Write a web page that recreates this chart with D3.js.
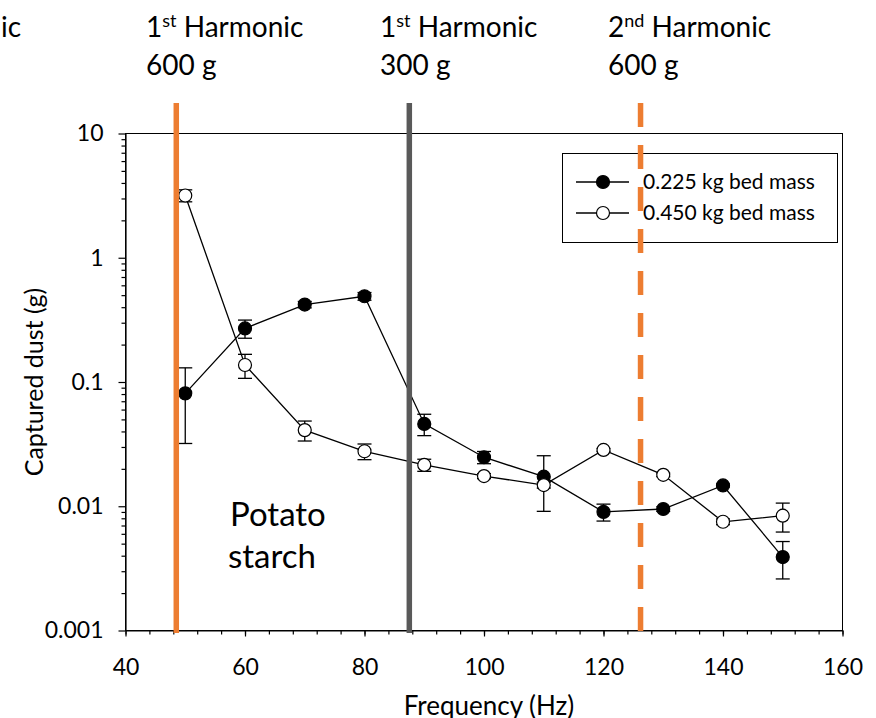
<!DOCTYPE html>
<html>
<head>
  <meta charset="UTF-8">
  <title>Captured dust vs frequency</title>
  <style>
    body { margin: 0; background: #fff; }
    svg { display: block; font-family: Lato, "Open Sans", sans-serif; }
    .tick text { font-size: 23px; fill: #000; font-family: Lato, "Open Sans", sans-serif; }
  </style>
</head>
<body>
<svg></svg>
<script src="https://d3js.org/d3.v7.min.js"></script>
<script>

let width = 876, height = 718;

// frequencies (Hz)
var freq = [50, 60, 70, 80, 90, 100, 110, 120, 130, 140, 150];

// 0.225 kg bed mass (filled)
var dust225 = [0.081, 0.27, 0.42, 0.49, 0.046, 0.0248, 0.0173, 0.0090, 0.0095, 0.0147, 0.0039];
var err225  = [0.049, 0.045, 0.025, 0.035, 0.009, 0.0028, 0.0082, 0.0014, 0.0004, 0.0004, 0.0013];

// 0.450 kg bed mass (open)
var dust450 = [3.17, 0.137, 0.041, 0.0277, 0.0215, 0.0175, 0.0148, 0.0284, 0.0179, 0.0075, 0.0084];
var err450  = [0.35, 0.03, 0.0075, 0.004, 0.0024, 0.0008, 0.0008, 0.0008, 0.0006, 0.0004, 0.0022];

var yTicks = [0.001, 0.01, 0.1, 1, 10];
var xTicks = [40, 60, 80, 100, 120, 140, 160];

// harmonic marker lines
var harmonics = [
  {f: 48.5, color: "#ED7D31", dash: null, num: "1", sup: "st", mass: "600 g", lx: 146},
  {f: 87.5, color: "#595959", dash: null, num: "1", sup: "st", mass: "300 g", lx: 380},
  {f: 126.2, color: "#ED7D31", dash: "24,18", num: "2", sup: "nd", mass: "600 g", lx: 608}
];

var pLeft = 125.5, pRight = 842.5, pTop = 133.5, pBottom = 630.5;

let svg = d3.select("svg")
    .attr("width", width)
    .attr("height", height);

var x = d3.scaleLinear().domain([40, 160]).range([pLeft, pRight]);
var y = d3.scaleLog().domain([0.001, 10]).range([pBottom, pTop]);

// frame
svg.append("rect")
    .attr("x", pLeft).attr("y", pTop)
    .attr("width", pRight - pLeft).attr("height", pBottom - pTop)
    .attr("fill", "none").attr("stroke", "#000").attr("stroke-width", 1);

// minor ticks
var yMinor = [];
for (let d = 0.001; d < 9; d *= 10) {
  for (let k = 2; k <= 9; k++) yMinor.push(d * k);
}
svg.append("g")
    .attr("transform", "translate(" + pLeft + ",0)")
    .call(d3.axisLeft(y).tickValues(yMinor).tickSize(4).tickFormat(""))
    .call(g => g.select(".domain").remove());

var xMinor = d3.range(40, 161, 4);
svg.append("g")
    .attr("transform", "translate(0," + pBottom + ")")
    .call(d3.axisBottom(x).tickValues(xMinor).tickSize(4).tickFormat(""))
    .call(g => g.select(".domain").remove());

// major axes
svg.append("g")
    .attr("transform", "translate(" + pLeft + ",0)")
    .call(d3.axisLeft(y).tickValues(yTicks).tickSize(7).tickPadding(15).tickSizeOuter(0)
      .tickFormat(d => String(d)));

svg.append("g")
    .attr("transform", "translate(0," + pBottom + ")")
    .call(d3.axisBottom(x).tickValues(xTicks).tickSize(6).tickPadding(22).tickSizeOuter(0));

svg.selectAll(".domain, .tick line").attr("stroke", "#000").attr("stroke-width", 1.2);

// axis titles
svg.append("text")
    .attr("transform", "translate(43," + ((pTop + pBottom) / 2) + ") rotate(-90)")
    .attr("text-anchor", "middle")
    .style("font-size", "25px")
    .text("Captured dust (g)");

svg.append("text")
    .attr("x", 489).attr("y", 715)
    .attr("text-anchor", "middle")
    .style("font-size", "26px")
    .text("Frequency (Hz)");

// Potato starch
var ps = svg.append("text").style("font-size", "33px");
ps.append("tspan").attr("x", 230).attr("y", 526).text("Potato");
ps.append("tspan").attr("x", 228).attr("y", 568).text("starch");

// series
function drawSeries(vals, errs, fill) {
  var pts = freq.map((f, i) => ({f: f, v: vals[i], e: errs[i]}));
  var g = svg.append("g");
  g.append("path")
      .datum(pts)
      .attr("fill", "none").attr("stroke", "#000").attr("stroke-width", 1.3)
      .attr("d", d3.line().x(d => x(d.f)).y(d => y(d.v)));
  var eb = g.selectAll(".eb").data(pts).enter().append("g")
      .attr("stroke", "#000").attr("stroke-width", 1.3);
  eb.append("line")
      .attr("x1", d => x(d.f)).attr("x2", d => x(d.f))
      .attr("y1", d => y(d.v + d.e)).attr("y2", d => y(Math.max(d.v - d.e, 0.0011)));
  eb.append("line")
      .attr("x1", d => x(d.f) - 7).attr("x2", d => x(d.f) + 7)
      .attr("y1", d => y(d.v + d.e)).attr("y2", d => y(d.v + d.e));
  eb.append("line")
      .attr("x1", d => x(d.f) - 7).attr("x2", d => x(d.f) + 7)
      .attr("y1", d => y(Math.max(d.v - d.e, 0.0011))).attr("y2", d => y(Math.max(d.v - d.e, 0.0011)));
  g.selectAll("circle").data(pts).enter().append("circle")
      .attr("cx", d => x(d.f)).attr("cy", d => y(d.v)).attr("r", 6.5)
      .attr("fill", fill).attr("stroke", "#000").attr("stroke-width", 1.2);
}
drawSeries(dust225, err225, "#000");
drawSeries(dust450, err450, "#fff");

// legend
var lg = svg.append("g");
lg.append("rect")
    .attr("x", 562.5).attr("y", 153.5).attr("width", 275).attr("height", 89)
    .attr("fill", "#fff").attr("stroke", "#000").attr("stroke-width", 1);
[["0.225 kg bed mass", "#000", 182], ["0.450 kg bed mass", "#fff", 213]].forEach(function (r) {
  lg.append("line").attr("x1", 576).attr("x2", 629).attr("y1", r[2]).attr("y2", r[2])
      .attr("stroke", "#000").attr("stroke-width", 1.3);
  lg.append("circle").attr("cx", 603).attr("cy", r[2]).attr("r", 6.5)
      .attr("fill", r[1]).attr("stroke", "#000").attr("stroke-width", 1.2);
  lg.append("text").attr("x", 643).attr("y", r[2]).attr("dy", "0.35em")
      .style("font-size", "21px").text(r[0]);
});

// harmonic lines, drawn on top
harmonics.forEach(function (h) {
  svg.append("line")
      .attr("x1", x(h.f)).attr("x2", x(h.f))
      .attr("y1", 103).attr("y2", 633)
      .attr("stroke", h.color).attr("stroke-width", 5.5)
      .attr("stroke-dasharray", h.dash);
  var t = svg.append("text").attr("x", h.lx).attr("y", 37).style("font-size", "28px");
  t.append("tspan").text(h.num);
  t.append("tspan").attr("dy", -10).style("font-size", "18px").text(h.sup);
  t.append("tspan").attr("dy", 10).text(" Harmonic");
  svg.append("text").attr("x", h.lx).attr("y", 75).style("font-size", "28px").text(h.mass);
});

// label cut off at the left edge
svg.append("text").attr("x", 21).attr("y", 37).attr("text-anchor", "end")
    .style("font-size", "28px").text("Harmonic");

</script>
</body>
</html>
